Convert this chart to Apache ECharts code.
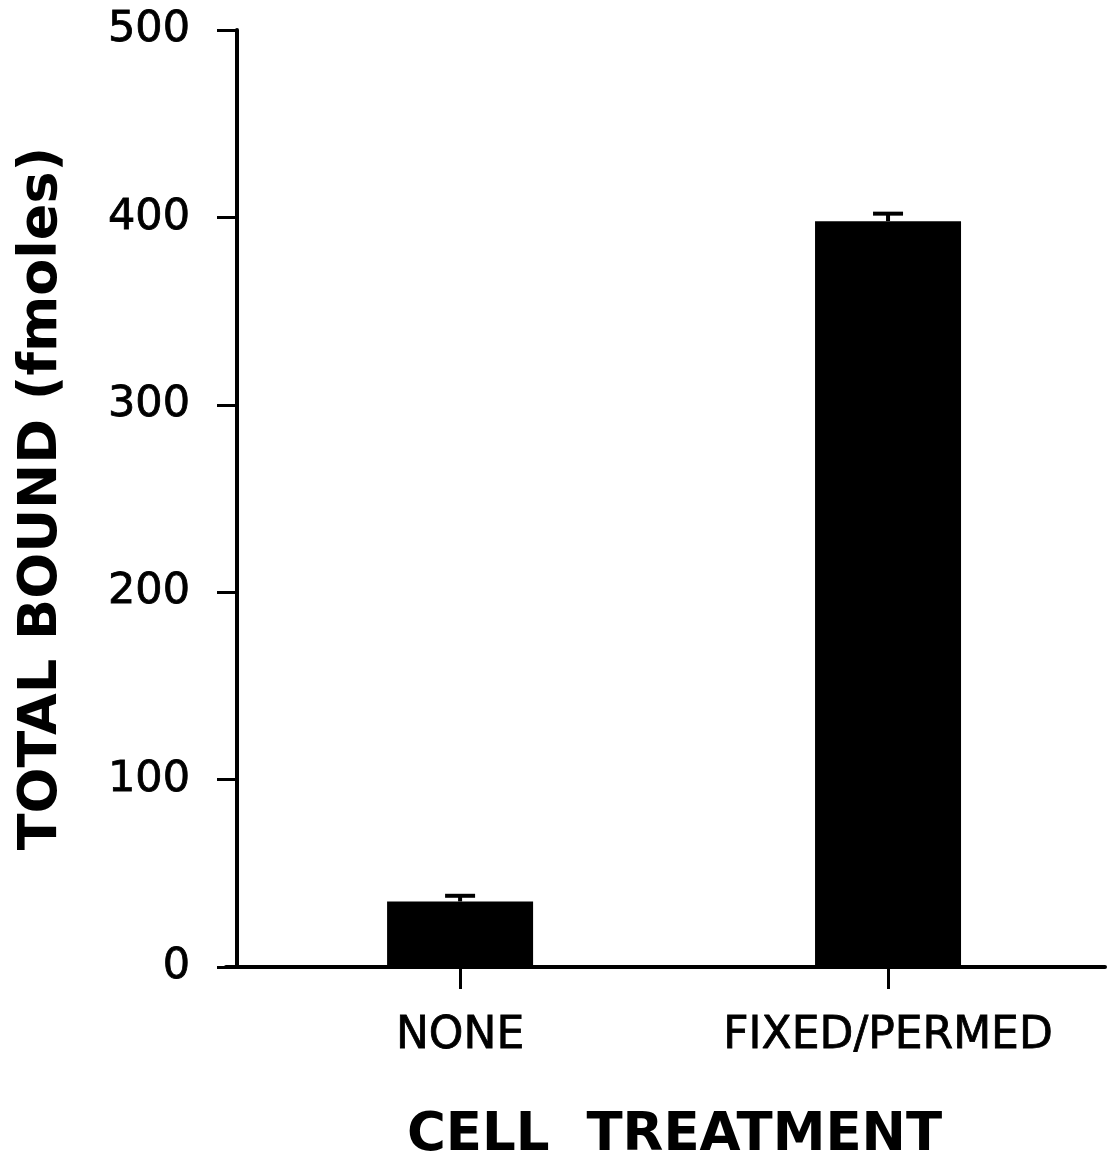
<!DOCTYPE html>
<html>
<head>
<meta charset="utf-8">
<title>Total bound by cell treatment</title>
<script src="https://cdn.jsdelivr.net/npm/echarts@6/dist/echarts.min.js"></script>
<style>
  html, body { margin: 0; padding: 0; background: #fff; }
  #chart { width: 1110px; height: 1168px; }
</style>
</head>
<body>
<div id="chart"></div>
<script>
// Treatments and measured totals (fmoles), with the upper error of each bar
const categories = ['NONE', 'FIXED/PERMED'];
const totalBound = [35, 398];
const errorUp = [3, 4];
const yTicks = [0, 100, 200, 300, 400, 500];

// x positions of the treatments on a numeric axis (1, 2, ...)
const positions = categories.map((c, i) => i + 1);

const FONT = '"DejaVu Sans", "Liberation Sans", sans-serif';

const chart = echarts.init(document.getElementById('chart'), null, { renderer: 'canvas' });

chart.setOption({
  animation: false,
  backgroundColor: '#ffffff',
  grid: { left: 226, right: 5, top: 30, bottom: 200.5, containLabel: false },
  xAxis: {
    type: 'value',
    min: 0.453,
    max: 2.507,
    name: 'CELL  TREATMENT',
    nameLocation: 'middle',
    nameGap: 143,
    nameTextStyle: {
      fontFamily: FONT, fontSize: 53, fontWeight: 'bold', color: '#000',
      padding: [0, 0, 0, 18]
    },
    splitLine: { show: false },
    axisLine: { onZero: false, lineStyle: { color: '#000', width: 4 } },
    axisTick: {
      show: true, inside: false, length: 22, customValues: positions,
      lineStyle: { color: '#000', width: 3 }
    },
    axisLabel: {
      customValues: positions,
      margin: 48,
      fontFamily: FONT, fontSize: 44, color: '#000',
      textBorderColor: '#000', textBorderWidth: 0.8,
      formatter: v => categories[Math.round(v) - 1] || ''
    }
  },
  yAxis: {
    type: 'value',
    min: 0,
    max: 500,
    interval: 100,
    offset: -11,
    name: 'TOTAL BOUND (fmoles)',
    nameLocation: 'middle',
    nameRotate: 90,
    nameGap: 168,
    nameTextStyle: { fontFamily: FONT, fontSize: 54, fontWeight: 'bold', color: '#000' },
    splitLine: { show: false },
    axisLine: { show: true, onZero: false, lineStyle: { color: '#000', width: 4 } },
    axisTick: { show: true, inside: false, length: 20, lineStyle: { color: '#000', width: 3 } },
    axisLabel: {
      margin: 47,
      fontFamily: FONT, fontSize: 43, color: '#000',
      textBorderColor: '#000', textBorderWidth: 0.8,
      formatter: v => (yTicks.indexOf(v) >= 0 ? String(v) : '')
    }
  },
  series: [
    {
      name: 'Total bound',
      type: 'bar',
      barWidth: 146,
      itemStyle: { color: '#000' },
      data: positions.map((x, i) => [x, totalBound[i]]),
      z: 2
    },
    {
      name: 'Error',
      type: 'custom',
      z: 3,
      data: positions.map((x, i) => [x, totalBound[i], totalBound[i] + errorUp[i]]),
      renderItem: function (params, api) {
        const base = api.coord([api.value(0), api.value(1)]);
        const top = api.coord([api.value(0), api.value(2)]);
        const half = 15;
        const style = { stroke: '#000', lineWidth: 4 };
        return {
          type: 'group',
          children: [
            { type: 'line', shape: { x1: base[0], y1: base[1], x2: top[0], y2: top[1] }, style: style },
            { type: 'line', shape: { x1: top[0] - half, y1: top[1], x2: top[0] + half, y2: top[1] }, style: style }
          ]
        };
      }
    }
  ]
});
</script>
</body>
</html>
